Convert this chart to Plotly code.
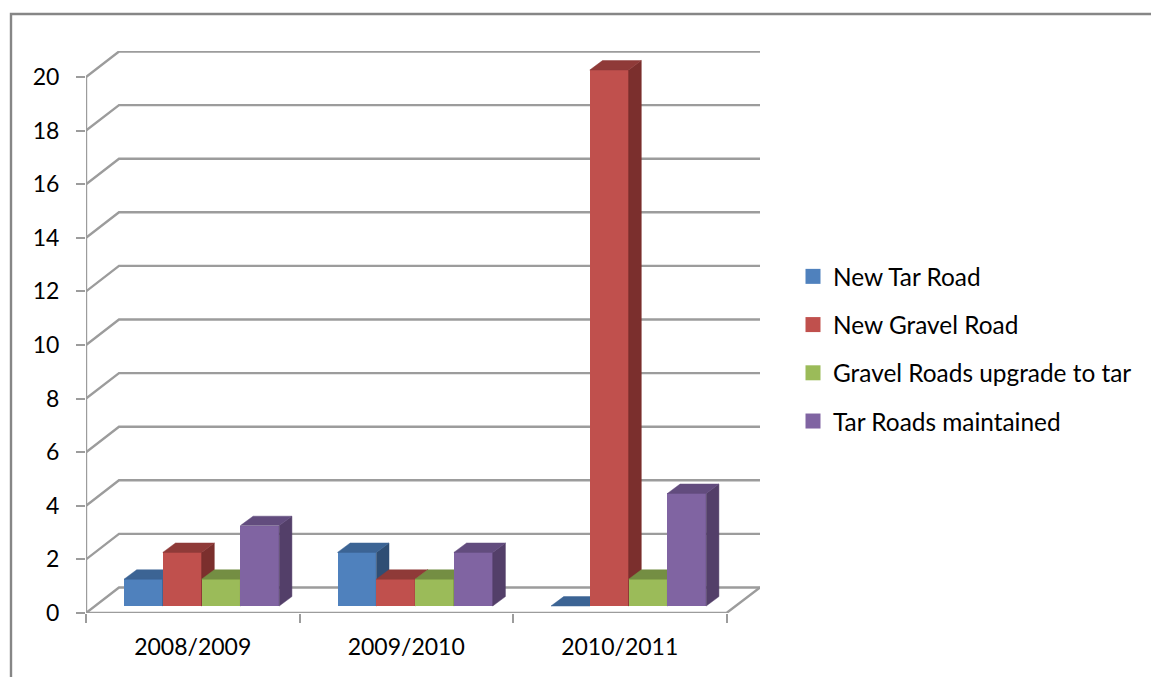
import plotly.graph_objects as go

categories = ["2008/2009", "2009/2010", "2010/2011"]
series_names = ["New Tar Road", "New Gravel Road", "Gravel Roads upgrade to tar", "Tar Roads maintained"]
new_tar = [1, 2, 0]
new_gravel = [2, 1, 20]
gravel_upgrade = [1, 1, 1]
tar_maintained = [3, 2, 4.2]
y_ticks = list(range(0, 21, 2))

series_values = [new_tar, new_gravel, gravel_upgrade, tar_maintained]
front_colors = ["#4F81BD", "#C0504D", "#9BBB59", "#8064A2"]
top_colors = ["#3C6494", "#8F3A38", "#748E43", "#624C7E"]
side_colors = ["#2F4E74", "#7B2F2D", "#5F7536", "#533F69"]
LINE = "#9C9C9C"
FONT = "Lato, Carlito, Calibri, sans-serif"

# pixel layout of the plot box
W, H = 1151, 677
L, R, T, B = 86, 760, 51, 613
CAT_PX = 213.5
UNIT_PX = 26.8
xmax = (R - L) / CAT_PX
ymax = (B - T) / UNIT_PX
px = lambda v: v / CAT_PX
py = lambda v: v / UNIT_PX

wall_dx, wall_dy = px(33), py(25.5)
inset_y = py(7)
bar_lead = px(38)
bar_w = px(38.8)
depth_x, depth_y = px(12.7), py(9.4)

fig = go.Figure()

# walls: grid lines on the back wall, floor and axis lines
gx, gy = [], []
for t in y_ticks:
    gx += [0, wall_dx, xmax, None]
    gy += [t, t + wall_dy, t + wall_dy, None]
fig.add_trace(go.Scatter(x=gx, y=gy, mode="lines", line=dict(color=LINE, width=2.4),
                         showlegend=False, cliponaxis=False, hoverinfo="skip"))
fig.add_trace(go.Scatter(
    x=[0, 0, None, 0, 3, xmax], y=[y_ticks[-1], 0, None, 0, 0, wall_dy],
    mode="lines", line=dict(color=LINE, width=2.4), showlegend=False, cliponaxis=False, hoverinfo="skip"))

# legend entries (square swatches)
for i, name in enumerate(series_names):
    fig.add_trace(go.Scatter(x=[None], y=[None], mode="markers", name=name, legendgroup=name,
                             marker=dict(symbol="square", size=15, color=front_colors[i], line_width=0)))

# one overlay subplot per series so painting runs left to right
for i, name in enumerate(series_names):
    n = i + 2
    xa, ya = f"x{n}", f"y{n}"
    lefts = [c + bar_lead + i * bar_w for c in range(len(categories))]
    fig.add_trace(go.Bar(
        x=[l + bar_w / 2 for l in lefts], y=series_values[i], base=[inset_y] * len(categories),
        width=[bar_w] * len(categories), marker=dict(color=front_colors[i], line_width=0),
        name=name, legendgroup=name, showlegend=False, xaxis=xa, yaxis=ya,
        hovertemplate=name + ": %{y}<extra></extra>"))
    tx, ty, sx, sy = [], [], [], []
    for l, v in zip(lefts, series_values[i]):
        top = inset_y + v
        tx += [l, l + depth_x, l + bar_w + depth_x, l + bar_w, l, None]
        ty += [top, top + depth_y, top + depth_y, top, top, None]
        if v > 0:
            r = l + bar_w
            sx += [r, r + depth_x, r + depth_x, r, r, None]
            sy += [inset_y, inset_y + depth_y, top + depth_y, top, inset_y, None]
    for xs, ys, c in ((sx, sy, side_colors[i]), (tx, ty, top_colors[i])):
        fig.add_trace(go.Scatter(x=xs, y=ys, mode="lines", fill="toself", fillcolor=c,
                                 line=dict(width=0.5, color=c), legendgroup=name, showlegend=False,
                                 xaxis=xa, yaxis=ya, hoverinfo="skip", cliponaxis=False))

layout = dict(
    width=W, height=H, autosize=False,
    margin=dict(l=L, r=W - R, t=T, b=H - B, pad=0),
    paper_bgcolor="white", plot_bgcolor="white",
    font=dict(family=FONT, size=23, color="#000000"),
    showlegend=True,
    legend=dict(x=(793 - L) / (R - L), xanchor="left", y=(B - 254) / (B - T), yanchor="top",
                tracegroupgap=13.5, itemclick=False, itemdoubleclick=False,
                font=dict(family=FONT, size=24.4), bgcolor="rgba(0,0,0,0)"),
    xaxis=dict(range=[0, xmax], showgrid=False, zeroline=False, showline=False,
               tickmode="array", tickvals=[c + 0.5 for c in range(3)], ticktext=categories,
               ticks="", ticklabelstandoff=18,
               minor=dict(tickmode="array", tickvals=[0, 1, 2, 3], ticks="outside", ticklen=9,
                          tickwidth=2, tickcolor=LINE, showgrid=False)),
    yaxis=dict(range=[0, ymax], showgrid=False, zeroline=False, showline=False,
               tickmode="array", tickvals=y_ticks, ticks="outside", ticklen=9, tickwidth=2,
               tickcolor=LINE, ticklabelstandoff=12),
    shapes=[dict(type="path", xref="paper", yref="paper", layer="below",
                 path=f"M {(11 - L) / (R - L)} {(B - H) / (B - T) } L {(11 - L) / (R - L)} {(B - 14) / (B - T)} L {(W - L) / (R - L)} {(B - 14) / (B - T)}",
                 line=dict(color="#868686", width=2.4))],
    bargap=0,
)
for n in range(2, 6):
    layout[f"xaxis{n}"] = dict(overlaying="x", range=[0, xmax], visible=False, anchor=f"y{n}")
    layout[f"yaxis{n}"] = dict(overlaying="y", range=[0, ymax], visible=False, anchor=f"x{n}")
fig.update_layout(**layout)

fig.write_html("out.html", config={"displayModeBar": False},
               post_script="document.body.style.margin='0';document.body.style.overflow='hidden';")
